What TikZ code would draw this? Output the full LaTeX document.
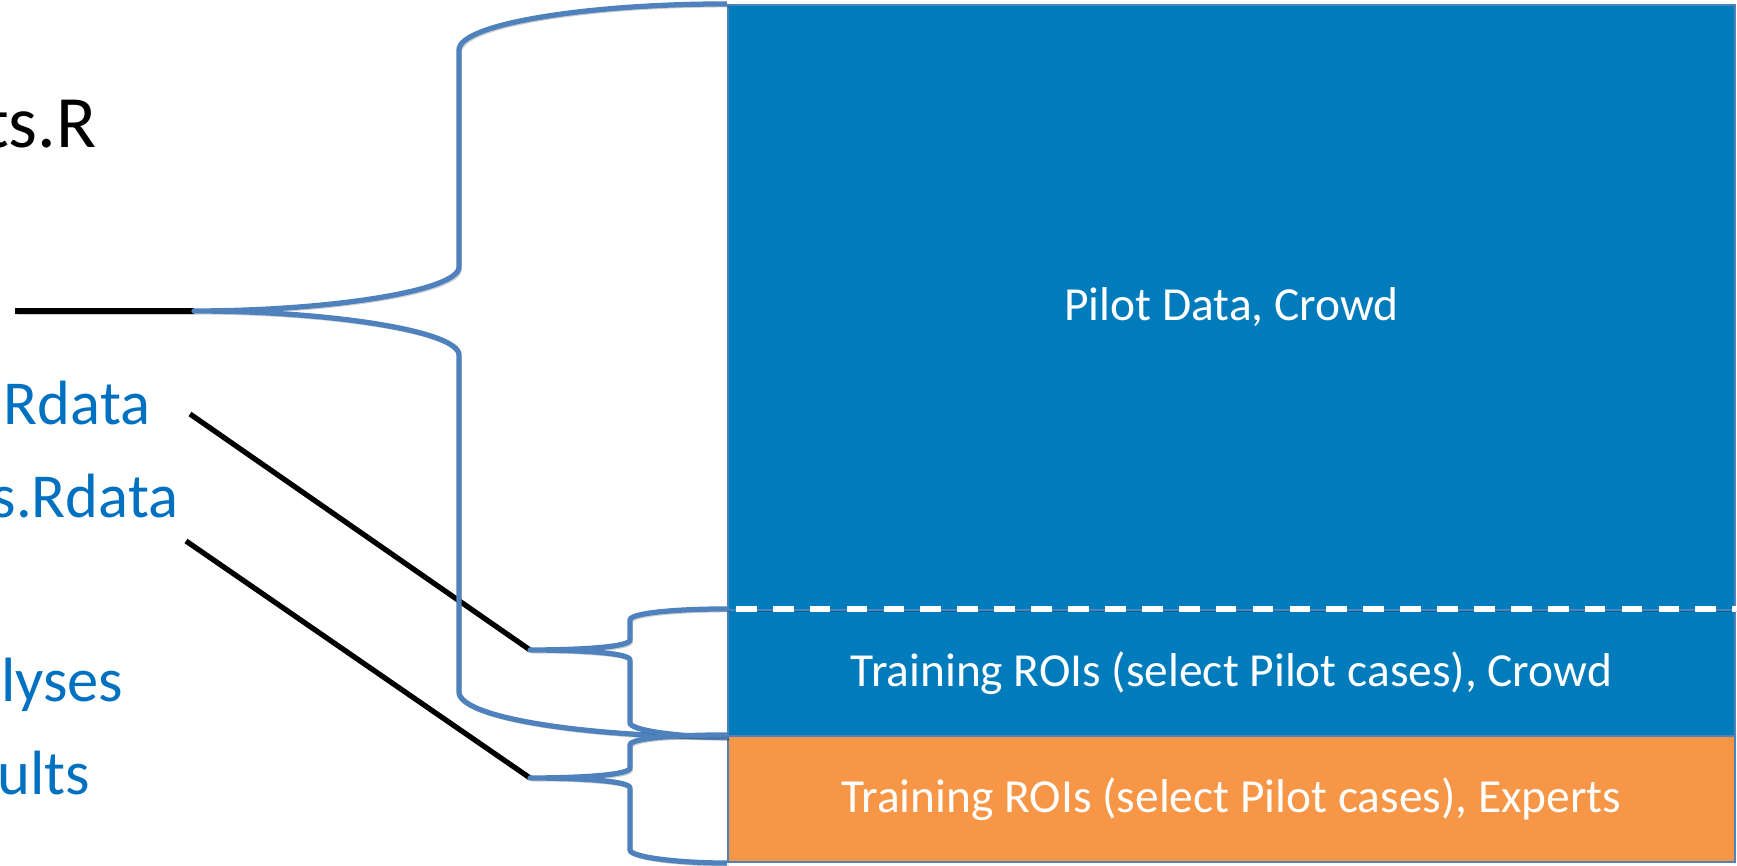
\documentclass[tikz,border=0pt]{standalone}
\usepackage{fontspec}
\setmainfont{Carlito}
\usetikzlibrary{calc}
\definecolor{colorCROWD}{RGB}{0,123,187}
\definecolor{colorEXP}{RGB}{247,150,70}
\definecolor{colorBR}{RGB}{79,129,189}
\definecolor{colorFILE}{RGB}{0,112,192}
\tikzset{
   shade/.style={preaction={draw=black,draw opacity=0.18,transform canvas={shift={(0.6pt,-0.8pt)}}}},
   roi/.style={rectangle,draw=colorBR,line width=0.6pt,inner sep=0pt,text=white,
      font=\fontsize{13.5}{16}\selectfont,minimum width=10.07cm},
   br/.style={shade,color=colorBR,line width=1.5pt,line join=round},
   ptr/.style={shade,-,color=black,line width=1.5pt},
   cut/.style={shade,white,line width=1.5pt,dash pattern=on 5.9pt off 4.6pt},
   rfile/.style={inner sep=0pt,anchor=base east,text=colorFILE,font=\fontsize{17.8}{21}\selectfont},
}

\begin{document}
\begin{tikzpicture}
      \useasboundingbox (0,0) rectangle (17.37,8.66);
      \clip (0,0) rectangle (17.37,8.66);
      % data blocks
      \node[roi,fill=colorCROWD,minimum height=6.05cm] (pilot) at (12.315,5.585) {Pilot Data, Crowd};
      \node[roi,fill=colorCROWD,minimum height=1.26cm] (trainc) at (12.315,1.93) {Training ROIs (select Pilot cases), Crowd};
      \node[roi,fill=colorEXP,minimum height=1.26cm] (traine) at (12.315,0.67) {Training ROIs (select Pilot cases), Experts};
      \draw[cut] ([xshift=0.09cm]trainc.north west) -- (trainc.north east);
      % files
      \node[inner sep=0pt,anchor=base east,font=\fontsize{21}{25}\selectfont] (fplots) at (0.97,7.18) {ts.R};
      \node[rfile] (fcrowd) at (1.51,4.41) {Rdata};
      \node[rfile] (fexp) at (1.79,3.48) {s.Rdata};
      \node[rfile] (fana) at (1.24,1.64) {lyses};
      \node[rfile] (fres) at (0.91,0.71) {ults};
      \coordinate (hl) at (0.15,5.55);
      \coordinate (pc) at (1.90,4.52);
      \coordinate (pe) at (1.86,3.25);
      \coordinate (tipall) at (1.94,5.55);
      \coordinate (tipc) at (5.30,2.16);
      \coordinate (tipe) at (5.30,0.88);
      \draw[ptr] (hl) -- (tipall);
      \draw[ptr] (pc) -- (tipc);
      \draw[ptr] (pe) -- (tipe);
      % braces
      \draw[br] (pilot.north west) .. controls +(-1.4,0) and +(0,0.26) .. (4.59,8.16)
         -- (4.59,5.99) .. controls +(0,-0.24) and +(1.35,0) .. (tipall)
         .. controls +(1.35,0) and +(0,0.24) .. (4.59,5.11)
         -- (4.59,1.74) .. controls +(0,-0.26) and +(-1.4,0) .. (trainc.south west);
      \draw[br] (trainc.north west) .. controls +(-0.5,0) and +(0,0.07) .. (6.30,2.46)
         -- (6.30,2.26) .. controls +(0,-0.07) and +(0.5,0) .. (tipc)
         .. controls +(0.5,0) and +(0,0.07) .. (6.30,2.06)
         -- (6.30,1.43) .. controls +(0,-0.07) and +(-0.5,0) .. (trainc.south west);
      \draw[br] (traine.north west) .. controls +(-0.5,0) and +(0,0.07) .. (6.30,1.21)
         -- (6.30,0.98) .. controls +(0,-0.07) and +(0.5,0) .. (tipe)
         .. controls +(0.5,0) and +(0,0.07) .. (6.30,0.78)
         -- (6.30,0.16) .. controls +(0,-0.07) and +(-0.5,0) .. (traine.south west);
    \end{tikzpicture}
\end{document}
